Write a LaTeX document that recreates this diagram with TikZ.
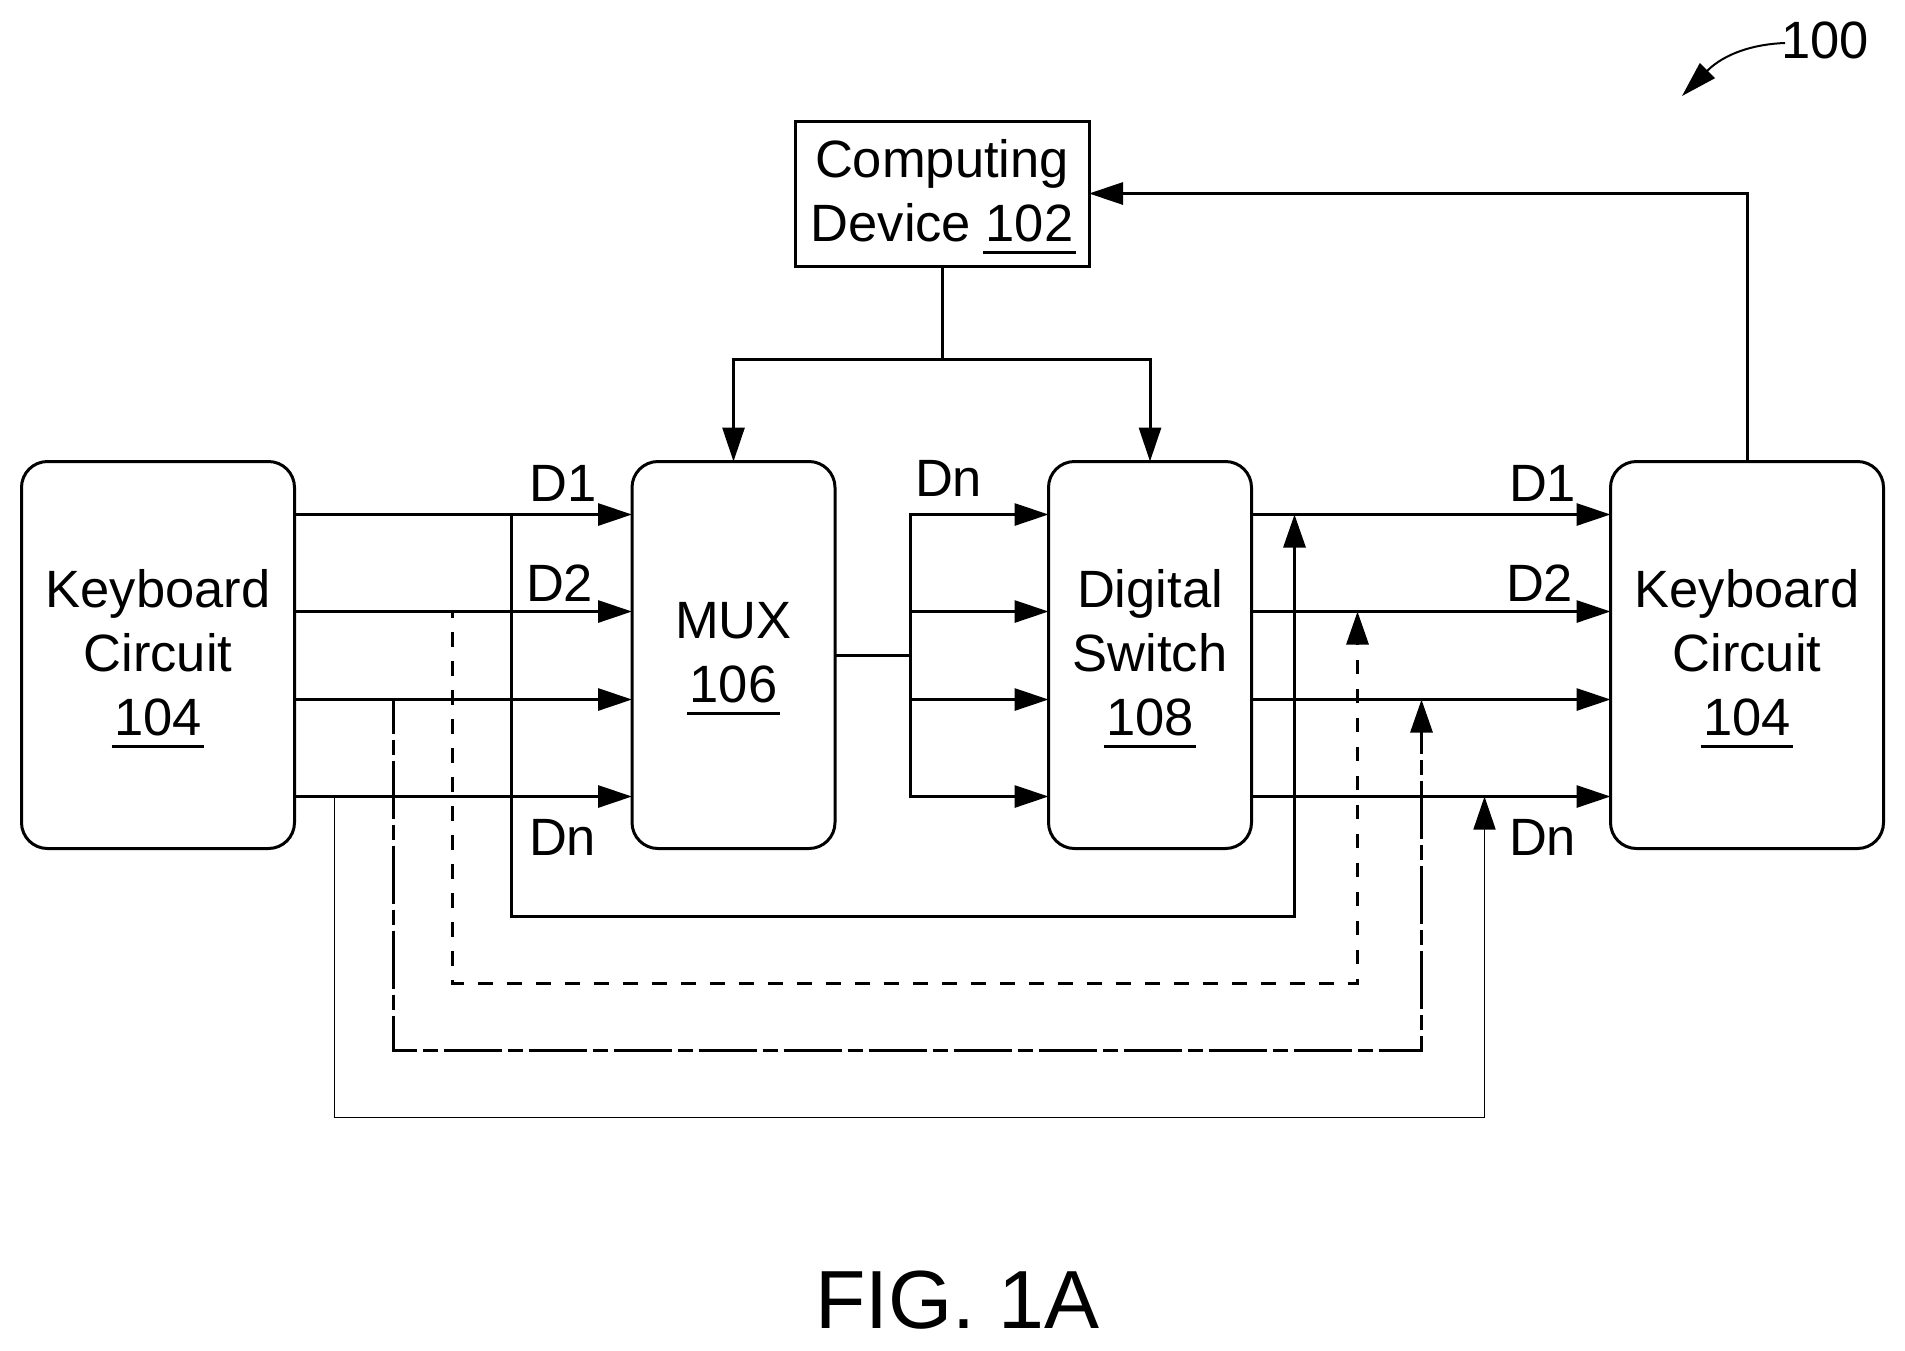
\documentclass[tikz,border=0pt]{standalone}
\usepackage{fontspec}
\setmainfont{Liberation Sans}
\usetikzlibrary{arrows.meta,calc}
\newsavebox{\numbox}
\newlength{\numwd}
\newcommand{\ulnum}[1]{\leavevmode\sbox{\numbox}{#1}\setlength{\numwd}{\wd\numbox}\addtolength{\numwd}{5pt}\smash{\rlap{\kern-2.5pt\rule[-12.5pt]{\numwd}{3pt}}}\usebox{\numbox}\rule[-6pt]{0pt}{6pt}}
\tikzset{
  block/.style={draw,line width=3pt,inner sep=0pt,outer sep=0pt,align=center,
    font=\fontsize{52.5}{64}\selectfont},
  roundblock/.style={block,rounded corners=26pt,minimum height=387pt},
  wide/.style={minimum width=273pt},
  narrow/.style={minimum width=203pt},
  sig/.style={line width=3pt},
  tip/.style={-{Triangle[length=34pt,width=22pt]}},
  uptip/.style={-{Triangle[length=33pt,width=22pt]}},
  lbl/.style={inner sep=0pt,outer sep=0pt,anchor=base west,font=\fontsize{52.5}{64}\selectfont},
}
\begin{document}
\begin{tikzpicture}[x=1pt,y=-1pt]
\useasboundingbox[fill=white] (0,0) rectangle (1905,1350);
% blocks
\node[roundblock,wide] (kbl) at (158,655) {Keyboard\\Circuit\\\ulnum{104}};
\node[roundblock,narrow] (mux) at (733.5,655) {MUX\\\ulnum{106}};
\node[roundblock,narrow] (dig) at (1150,655) {Digital\\Switch\\\ulnum{108}};
\node[roundblock,wide] (kbr) at (1747,655) {Keyboard\\Circuit\\\ulnum{104}};
\node[block,minimum width=294pt,minimum height=145pt] (comp) at (942,193.5) {Computing\\Device \ulnum{102}};
% levels
\coordinate (yA) at (0,514.5);
\coordinate (yB) at (0,611.5);
\coordinate (yC) at (0,699.5);
\coordinate (yD) at (0,796.5);
\coordinate (bus) at (910.5,655.5);
\coordinate (jct) at (942.5,359.5);
\coordinate (solidL) at (511.5,916.5);
\coordinate (solidR) at (1294.5,916.5);
\coordinate (dashL) at (452.5,983.5);
\coordinate (dashR) at (1357.5,983.5);
\coordinate (ddL) at (393.5,1050.5);
\coordinate (ddR) at (1421.5,1050.5);
\coordinate (thinL) at (334.5,1117.5);
\coordinate (thinR) at (1484.5,1117.5);
% inputs to MUX
\foreach \lev in {yA,yB,yC,yD} {
  \draw[sig,tip] (kbl.east |- \lev) -- (mux.west |- \lev);
  \draw[sig,tip] (bus |- \lev) -- (dig.west |- \lev);
  \draw[sig,tip] (dig.east |- \lev) -- (kbr.west |- \lev);
}
% MUX to switch
\draw[sig] (mux.east |- bus) -- (bus);
\draw[sig,line cap=rect] (bus |- yA) -- (bus |- yD);
% computing device
\draw[sig] (comp.south -| jct) -- (jct);
\draw[sig,tip] (jct) -| (mux.north);
\draw[sig,tip] (jct) -| (dig.north);
\draw[sig,tip] (kbr.north) |- (comp.east);
% bypass lines
\draw[sig,uptip] (solidL |- yA) -- (solidL) -- (solidR) -- (solidR |- yA);
\draw[sig,uptip,dash pattern=on 14.5pt off 14.5pt,dash phase=8.5pt] (dashL |- yB) -- (dashL) -- (dashR) -- (dashR |- yB);
\draw[sig,uptip,dash pattern=on 58pt off 6pt on 15pt off 6pt,dash phase=24pt] (ddL |- yC) -- (ddL) -- (ddR) -- (ddR |- yC);
\draw[line width=1.7pt,uptip] (thinL |- yD) -- (thinL) -- (thinR) -- (thinR |- yD);
% signal labels
\node[lbl] (la) at (529.5,501.7) {D1};
\node[lbl] (lb) at (526,601.7) {D2};
\node[lbl] (lc) at (529,855) {Dn};
\node[lbl] (ld) at (915,496) {Dn};
\node[lbl] (le) at (1509,501.7) {D1};
\node[lbl] (lf) at (1506,601.7) {D2};
\node[lbl] (lg) at (1509,855) {Dn};
% reference numeral
\node[lbl] (ref) at (1781,58) {100};
\coordinate (reftip) at (1682,96);
\draw[line width=2pt,-{Triangle[length=36pt,width=21pt]}] ($(ref.base west)+(4,-15)$) .. controls (1755,44) and (1725,53) .. (reftip);
% figure caption
\node[lbl,font=\fontsize{82.5}{90}\selectfont] (fig) at (815,1328) {FIG. 1A};
\end{tikzpicture}
\end{document}
